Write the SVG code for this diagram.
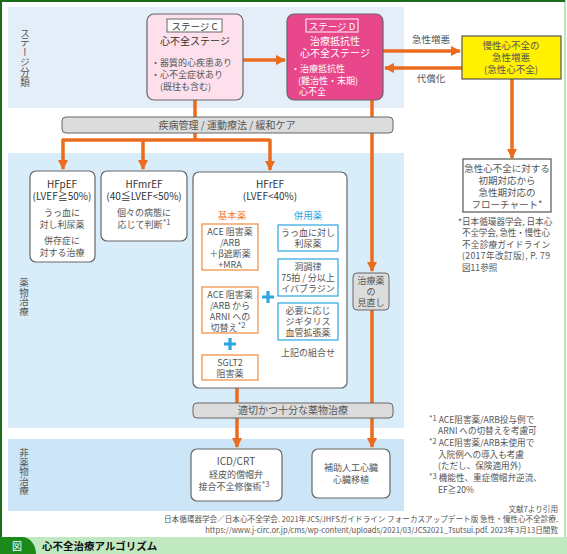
<svg xmlns="http://www.w3.org/2000/svg" width="567" height="554" viewBox="0 0 567 554">
<defs>
<style>
text{font-family:"Noto Sans CJK JP","Noto Sans",sans-serif;fill:#555;font-size:9.5px}
.c{text-anchor:middle}
.r{text-anchor:end}
.w{fill:#fff}
.b{font-weight:bold}
.v{writing-mode:tb;font-size:9.5px}
.o{stroke:#ec6c1f;stroke-width:3.5;fill:none}
.box{fill:#fff;stroke:#666;stroke-width:1.2}
.ob{fill:#fff;stroke:#f08a3c;stroke-width:1.2}
.bb{fill:#fff;stroke:#2aa6e0;stroke-width:1.2}
.band{fill:#dcdcdc;stroke:#666;stroke-width:1}
.sm{font-size:7.6px}
.fn{font-size:8.6px}
.t9{font-size:9px}
</style>
<marker id="ah" viewBox="0 0 10 10" refX="9" refY="5" markerWidth="3" markerHeight="3" orient="auto" markerUnits="strokeWidth">
<path d="M0,0 L10,5 L0,10 z" fill="#ec6c1f"/>
</marker>
</defs>
<rect x="0" y="0" width="567" height="554" fill="#fff"/>
<rect x="1" y="1" width="564" height="550" fill="none" stroke="#9ee29e" stroke-width="1.5"/>
<path d="M1,552 V1 H565" fill="none" stroke="#1b6b1b" stroke-width="2"/>
<!-- bands -->
<rect x="8" y="7" width="396" height="101" fill="#e3eef8"/>
<rect x="8" y="153" width="396" height="275" fill="#d9ecf9"/>
<rect x="8" y="439" width="396" height="72" fill="#cde6f7"/>
<!-- side labels -->
<g id="side-labels">
<text x="25" y="28" class="v" style="font-size:9.8px">ステージ分類</text>
<text x="24" y="278" class="v">薬物治療</text>
<text x="24" y="448" class="v">非薬物治療</text>
</g>
<!-- connectors -->
<g id="connectors">
<line class="o" x1="243" y1="60" x2="285" y2="60" marker-end="url(#ah)"/>
<line class="o" x1="383" y1="51" x2="460" y2="51" marker-end="url(#ah)"/>
<line class="o" x1="462" y1="68" x2="385" y2="68" marker-end="url(#ah)"/>
<line class="o" x1="512" y1="79" x2="512" y2="158" marker-end="url(#ah)"/>
<line class="o" x1="195" y1="100" x2="195" y2="140"/>
<line class="o" x1="62" y1="140" x2="270" y2="140"/>
<line class="o" x1="63" y1="139" x2="63" y2="169" marker-end="url(#ah)"/>
<line class="o" x1="143" y1="139" x2="143" y2="169" marker-end="url(#ah)"/>
<line class="o" x1="270" y1="139" x2="270" y2="170" marker-end="url(#ah)"/>
<line class="o" x1="372" y1="100" x2="372" y2="271" marker-end="url(#ah)"/>
<line class="o" x1="372" y1="310" x2="372" y2="447" marker-end="url(#ah)"/>
<line class="o" x1="237" y1="388" x2="237" y2="447" marker-end="url(#ah)"/>
<line class="o" x1="230" y1="270" x2="230" y2="286" marker-end="url(#ah)"/>
<text x="431" y="43" class="c">急性増悪</text>
<text x="431" y="82" class="c">代償化</text>
</g>
<!-- Stage C -->
<g id="stageC">
<rect x="147" y="14" width="96" height="86" rx="7" fill="#fde0ec" stroke="#666" stroke-width="1.2"/>
<rect x="167" y="19" width="55" height="13" fill="#fff" stroke="#666" stroke-width="1"/>
<text x="194.5" y="29.5" class="c" style="fill:#333">ステージ C</text>
<text x="195" y="45" class="c" style="fill:#333;font-size:10px">心不全ステージ</text>
<text x="151" y="66" class="t9">・器質的心疾患あり</text>
<text x="151" y="78" class="t9">・心不全症状あり</text>
<text x="160" y="90" class="t9">(既往も含む)</text>
</g>
<!-- Stage D -->
<g id="stageD">
<rect x="287" y="14" width="96" height="86" rx="7" fill="#e8478b" stroke="#666" stroke-width="1.2"/>
<rect x="306" y="19" width="52" height="13" fill="none" stroke="#fff" stroke-width="1"/>
<text x="332" y="29.5" class="c w">ステージ D</text>
<text x="335" y="45" class="c w" style="font-size:10px">治療抵抗性</text>
<text x="335" y="57" class="c w" style="font-size:10px">心不全ステージ</text>
<text x="291" y="72" class="w t9">・治療抵抗性</text>
<text x="298" y="84" class="w t9">(難治性・末期)</text>
<text x="299" y="95" class="w t9">心不全</text>
</g>
<!-- acute -->
<g id="acute">
<rect x="462" y="36" width="99" height="43" fill="#fff100" stroke="#555" stroke-width="1.2"/>
<text x="511" y="49" class="c">慢性心不全の</text>
<text x="511" y="61" class="c">急性増悪</text>
<text x="511" y="73" class="c">(急性心不全)</text>
</g>
<g id="flowchart">
<rect x="463" y="159" width="88" height="53" fill="#fff" stroke="#555" stroke-width="1.2"/>
<text x="507" y="172" class="c">急性心不全に対する</text>
<text x="507" y="184" class="c">初期対応から</text>
<text x="507" y="196" class="c">急性期対応の</text>
<text x="507" y="208" class="c">フローチャート*</text>
</g>
<g id="note-acute">
<text x="458" y="225" class="fn">*日本循環器学会, 日本心</text>
<text x="462" y="236" class="fn" textLength="88">不全学会, 急性・慢性心</text>
<text x="462" y="248" class="fn" textLength="88">不全診療ガイドライン</text>
<text x="462" y="259" class="fn" textLength="88">(2017年改訂版), P. 79</text>
<text x="462" y="271" class="fn">図11参照</text>
</g>
<!-- gray band -->
<g id="care">
<rect class="band" x="62" y="117" width="331" height="16" rx="4"/>
<text x="227" y="128.5" class="c" style="font-size:10px">疾病管理 / 運動療法 / 緩和ケア</text>
</g>
<!-- HFpEF -->
<g id="hfpef">
<rect class="box" x="30" y="171" width="65" height="91" rx="6"/>
<text x="62" y="188" class="c" style="fill:#333;font-size:10px">HFpEF</text>
<text x="62" y="200" class="c" style="fill:#333;font-size:10px">(LVEF≧50%)</text>
<text x="62" y="216" class="c t9">うっ血に</text>
<text x="62" y="228" class="c t9">対し利尿薬</text>
<text x="62" y="244" class="c t9">併存症に</text>
<text x="62" y="256" class="c t9">対する治療</text>
</g>
<!-- HFmrEF -->
<g id="hfmref">
<rect class="box" x="101" y="171" width="86" height="70" rx="6"/>
<text x="144" y="188" class="c" style="fill:#333;font-size:10px">HFmrEF</text>
<text x="144" y="200" class="c" style="fill:#333;font-size:10px">(40≦LVEF&lt;50%)</text>
<text x="144" y="216" class="c t9">個々の病態に</text>
<text x="144" y="228" class="c t9">応じて判断<tspan class="sm" dy="-3">*1</tspan></text>
</g>
<!-- HFrEF -->
<g id="hfref">
<rect class="box" x="193" y="172" width="154" height="216" rx="6"/>
<text x="270" y="188" class="c" style="fill:#333;font-size:10px">HFrEF</text>
<text x="270" y="200" class="c" style="fill:#333;font-size:10px">(LVEF&lt;40%)</text>
<text x="232" y="219" class="c" style="fill:#ef7d2e">基本薬</text>
<text x="308" y="219" class="c" style="fill:#2aa6e0">併用薬</text>
<rect class="ob" x="202" y="224" width="56" height="46"/>
<text x="230" y="235" class="c t9">ACE 阻害薬</text>
<text x="230" y="246" class="c t9">/ARB</text>
<text x="230" y="257" class="c t9">＋β遮断薬</text>
<text x="230" y="267.5" class="c t9">+MRA</text>
<rect class="ob" x="202" y="287" width="56" height="46"/>
<text x="230" y="298" class="c t9">ACE 阻害薬</text>
<text x="230" y="309" class="c t9">/ARB から</text>
<text x="230" y="320" class="c t9">ARNI への</text>
<text x="228" y="330.5" class="c t9">切替え<tspan class="sm" dy="-3">*2</tspan></text>
<path d="M230,338 v12 M224,344 h12" stroke="#2aa6e0" stroke-width="3.2"/>
<rect class="ob" x="202" y="355" width="56" height="25"/>
<text x="230" y="366" class="c t9">SGLT2</text>
<text x="230" y="377" class="c t9">阻害薬</text>
<path d="M268,291 v12 M262,297 h12" stroke="#2aa6e0" stroke-width="3.2"/>
<rect class="bb" x="278" y="225" width="60" height="26"/>
<text x="308" y="236" class="c t9">うっ血に対し</text>
<text x="308" y="247" class="c t9">利尿薬</text>
<rect class="bb" x="278" y="259" width="60" height="37"/>
<text x="308" y="270" class="c t9">洞調律</text>
<text x="308" y="281" class="c t9">75拍 / 分以上</text>
<text x="308" y="292" class="c t9">イバブラジン</text>
<rect class="bb" x="278" y="303" width="60" height="37"/>
<text x="308" y="314" class="c t9">必要に応じ</text>
<text x="308" y="325" class="c t9">ジギタリス</text>
<text x="308" y="336" class="c t9">血管拡張薬</text>
<text x="308" y="356" class="c t9">上記の組合せ</text>
</g>
<!-- review -->
<g id="review">
<rect x="353" y="273" width="36" height="37" rx="4" fill="#dcdcdc" stroke="#666" stroke-width="1"/>
<text x="371" y="284" class="c t9">治療薬</text>
<text x="371" y="295" class="c t9">の</text>
<text x="371" y="306" class="c t9">見直し</text>
</g>
<!-- adequate -->
<g id="adequate">
<rect class="band" x="193" y="403" width="200" height="15" rx="4"/>
<text x="293" y="414" class="c" style="font-size:10px">適切かつ十分な薬物治療</text>
</g>
<!-- ICD -->
<g id="icd">
<rect class="box" x="191" y="449" width="91" height="52" rx="6"/>
<text x="236" y="465" class="c" style="font-size:10px">ICD/CRT</text>
<text x="236" y="478" class="c t9">経皮的僧帽弁</text>
<text x="234" y="490" class="c t9">接合不全修復術<tspan class="sm" dy="-3">*3</tspan></text>
</g>
<g id="vad">
<rect class="box" x="312" y="449" width="78" height="49" rx="6"/>
<text x="351" y="471" class="c t9">補助人工心臓</text>
<text x="351" y="483" class="c t9">心臓移植</text>
</g>
<!-- footnotes -->
<g id="footnotes">
<text x="429" y="423" class="fn"><tspan class="sm" dy="-2">*1</tspan><tspan dy="2"> ACE阻害薬/ARB投与例で</tspan></text>
<text x="438" y="434" class="fn">ARNI への切替えを考慮可</text>
<text x="429" y="446" class="fn"><tspan class="sm" dy="-2">*2</tspan><tspan dy="2"> ACE阻害薬/ARB未使用で</tspan></text>
<text x="438" y="458" class="fn">入院例への導入も考慮</text>
<text x="438" y="469" class="fn">(ただし、保険適用外)</text>
<text x="429" y="481" class="fn"><tspan class="sm" dy="-2">*3</tspan><tspan dy="2"> 機能性、重症僧帽弁逆流、</tspan></text>
<text x="438" y="493" class="fn">EF≧20%</text>
<text x="558" y="512" class="r sm">文献7より引用</text>
<text x="558" y="522" class="r sm">日本循環器学会／日本心不全学会. 2021年JCS/JHFSガイドライン フォーカスアップデート版 急性・慢性心不全診療.</text>
<text x="558" y="533" class="r sm">https://www.j-circ.or.jp/cms/wp-content/uploads/2021/03/JCS2021_Tsutsui.pdf. 2023年3月13日閲覧</text>
</g>
<!-- banner -->
<g id="banner">
<rect x="0" y="537" width="567" height="17" fill="#c1e9c1"/>
<path d="M0,537 H22 A14,17 0 0 1 36,554 H0 Z" fill="#1b8a1b"/>
<text x="17" y="549.5" class="c w" style="font-size:10px">図</text>
<text x="42" y="550" class="b" style="fill:#111;font-size:10.5px">心不全治療アルゴリズム</text>
</g>
</svg>
